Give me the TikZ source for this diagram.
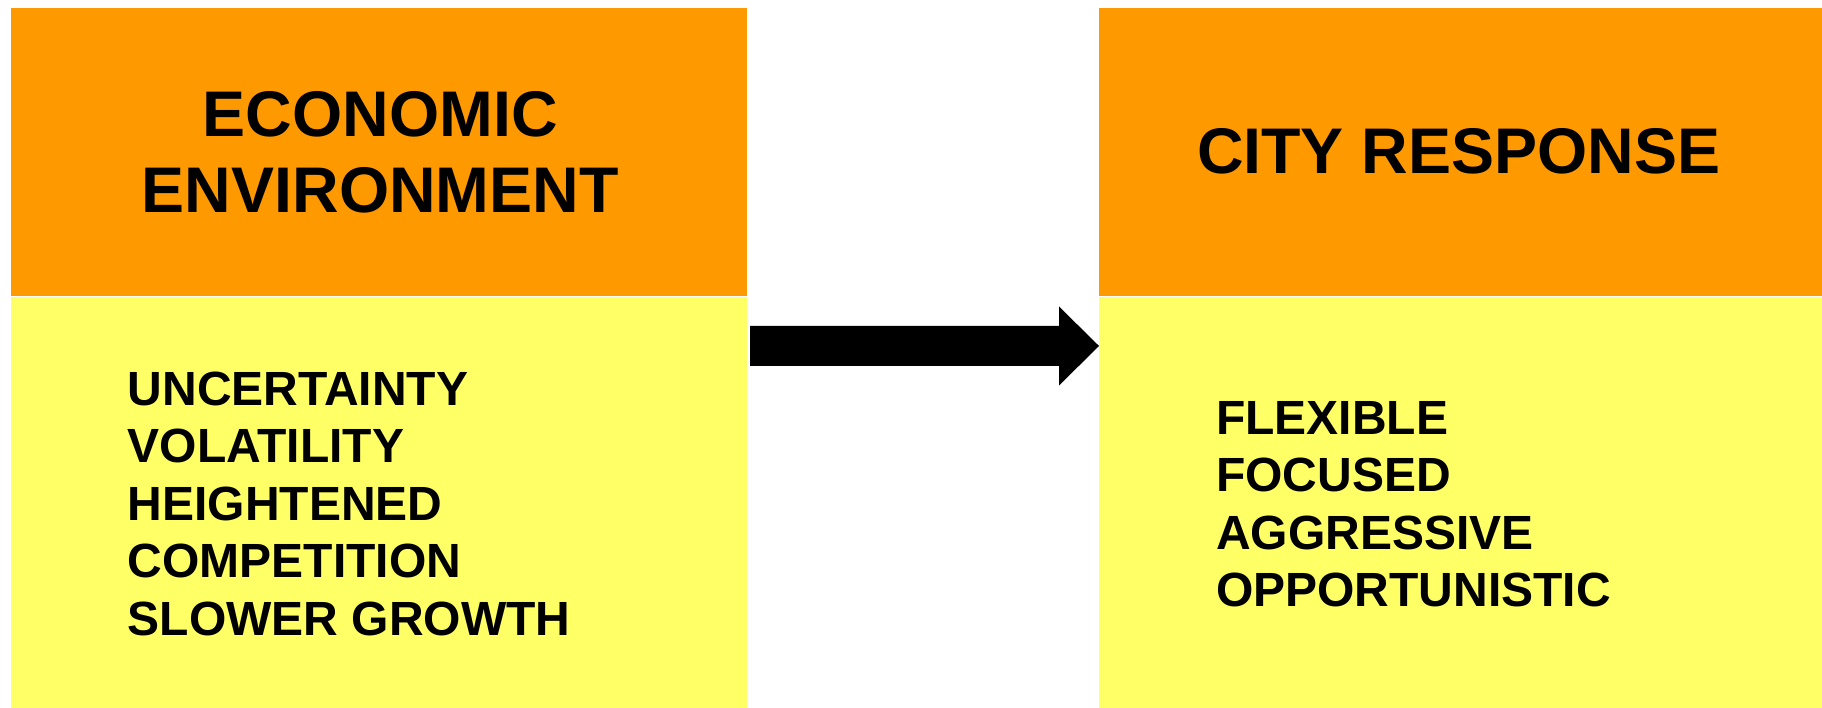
\documentclass[tikz,border=0pt]{standalone}
\usepackage{fontspec}
\setmainfont{Liberation Sans}
\usetikzlibrary{positioning}
\definecolor{boxorange}{RGB}{255,153,0}
\definecolor{boxyellow}{RGB}{255,255,102}
\tikzset{
  headbox/.style={fill=boxorange, inner sep=0pt, minimum width=#1, minimum height=288pt},
  bodybox/.style={fill=boxyellow, inner sep=0pt, minimum width=#1, minimum height=412pt},
  headtext/.style={inner sep=0pt, align=center, font=\bfseries\fontsize{64.5}{76.6}\selectfont},
  listtext/.style={inner sep=0pt, align=left, anchor=north west, font=\bfseries\fontsize{48}{57.5}\selectfont}
}
\begin{document}
\begin{tikzpicture}[x=1pt,y=1pt]
        \useasboundingbox (0,0) rectangle (1822,708);
        %% left column
        \node[headbox=736pt, anchor=north west] (envhead) at (11,700) {};
        \node[bodybox=736pt, below=0pt of envhead] (envbody) {};
        \node[headtext] (envtitle) at ([xshift=1]envhead.center) {ECONOMIC\\ENVIRONMENT};
        \node[listtext] (envlist) at ([shift={(116.5,-75.2)}]envbody.north west)
            {UNCERTAINTY\\VOLATILITY\\HEIGHTENED\\COMPETITION\\SLOWER GROWTH};
        %% right column
        \node[headbox=723pt, anchor=north west] (cityhead) at (1099,700) {};
        \node[bodybox=723pt, below=0pt of cityhead] (citybody) {};
        \node[headtext] (citytitle) at ([shift={(-2,1)}]cityhead.center) {CITY RESPONSE};
        \node[listtext] (citylist) at ([shift={(116.9,-104.6)}]citybody.north west)
            {FLEXIBLE\\FOCUSED\\AGGRESSIVE\\OPPORTUNISTIC};
        %% block arrow
        \coordinate (arrtail) at (750,362);
        \fill (arrtail) ++(0,20) -- ++(309,0) -- ++(0,19.5) -- (citybody.west |- arrtail)
            -- ++(-40,-39.5) -- ++(0,19.5) -- ++(-309,0) -- cycle;
    \end{tikzpicture}
\end{document}
